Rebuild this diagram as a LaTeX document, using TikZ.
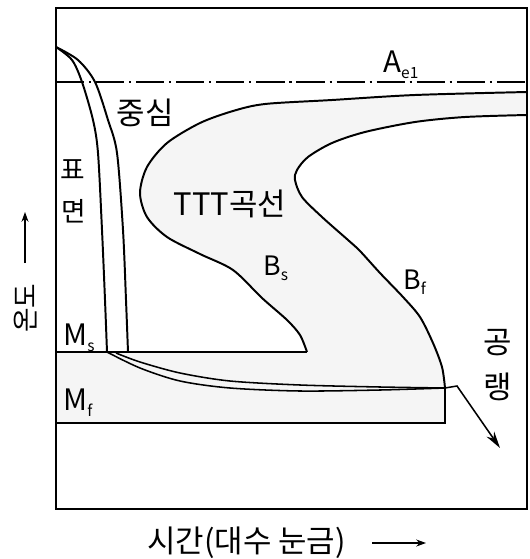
\documentclass[tikz,border=0pt]{standalone}
\usepackage{fontspec}
\setmainfont{Noto Sans CJK KR}
\usepackage{tikz}
\usetikzlibrary{arrows.meta}

\newcommand{\lowidx}[1]{\raisebox{-0.22em}{\fontsize{11}{11}\selectfont #1}}

\begin{document}
\begin{tikzpicture}[
        x=0.025cm, y=-0.025cm,
        frame/.style={draw=black, line width=1.3pt},
        ttt/.style={draw=black, line width=1.4pt},
        level/.style={draw=black, line width=1.6pt},
        cool/.style={draw=black, line width=1.1pt},
        aeline/.style={draw=black, line width=1pt,
            dash pattern=on 20pt off 3.5pt on 1.5pt off 3.5pt},
        region/.style={fill=black!4},
        lbl/.style={font=\fontsize{22}{23}\selectfont, inner sep=0pt},
        sym/.style={font=\fontsize{19}{20}\selectfont, inner sep=0pt, anchor=base west},
        axisarr/.style={-{Stealth[length=7pt, width=5pt]}, line width=0.8pt},
        coolarr/.style={-{Stealth[length=12pt, width=6.5pt]}, line width=1.1pt}
    ]
    \useasboundingbox (0,0) rectangle (529,559);

    % === Key points ===
    \coordinate (tl) at (56,8);
    \coordinate (br) at (527,509);
    \coordinate (aeL) at (56,82);
    \coordinate (aeR) at (527,82);
    \coordinate (msL) at (56,352);
    \coordinate (msR) at (307,352);
    \coordinate (mfL) at (56,423);
    \coordinate (mfR) at (445,423);
    \coordinate (bfEnd) at (445,388);
    \coordinate (bend) at (457,386);
    \coordinate (tip) at (500,448);

    % === Transformation region (shaded) ===
    \fill[region] plot[smooth] coordinates {(527,92) (415,95) (332,100) (265,104)
        (233,111) (200,123) (167,143) (147,167) (140,193) (147,217) (167,237)
        (200,254) (233,270) (262,298) (287,320) (300,335) (307,352)}
        -- (msL) -- (mfL) -- (mfR) -- (bfEnd)
        -- plot[smooth] coordinates {(445,388) (442,367) (433,343) (420,317)
        (403,297) (380,273) (360,251) (348,240) (322,217) (302,197) (295,180)
        (297,170) (308,157) (332,143) (365,132) (415,122) (465,117) (527,115)}
        -- cycle;

    % === Frame and A_e1 ===
    \draw[frame] (tl) rectangle (br);
    \draw[aeline] (aeL) -- (aeR);

    % === TTT curves ===
    \draw[ttt] plot[smooth] coordinates {(527,92) (415,95) (332,100) (265,104)
        (233,111) (200,123) (167,143) (147,167) (140,193) (147,217) (167,237)
        (200,254) (233,270) (262,298) (287,320) (300,335) (307,352)};
    \draw[ttt] plot[smooth] coordinates {(527,115) (465,117) (415,122) (365,132)
        (332,143) (308,157) (297,170) (295,180) (302,197) (322,217) (348,240)
        (360,251) (380,273) (403,297) (420,317) (433,343) (442,367) (445,388)};

    % === M_s and M_f lines ===
    \draw[level] (msL) -- (msR);
    \draw[level] (mfL) -- (mfR) -- (bfEnd);

    % === Cooling curves: surface and center ===
    \draw[ttt] plot[smooth] coordinates {(56,47) (72,60) (82,82) (93,120)
        (98,153) (102,230) (105,300) (107,352)};
    \draw[ttt] plot[smooth] coordinates {(56,47) (78,60) (95,82) (108,120)
        (117,153) (123,230) (126,300) (128,352)};
    \draw[cool] plot[smooth] coordinates {(107,352) (140,368) (180,381)
        (230,388) (300,391) (380,390) (445,388)};
    \draw[cool] plot[smooth] coordinates {(116,353) (140,362) (180,373)
        (230,381) (300,385) (380,387) (445,388)};
    \draw[coolarr] (bfEnd) -- (bend) -- (tip);

    % === Labels ===
    \node[sym, font=\fontsize{21}{22}\selectfont] (ae) at (383,72) {A\lowidx{e1}};
    \node[sym, font=\fontsize{21}{22}\selectfont] (ms) at (63,345) {M\lowidx{s}};
    \node[sym, font=\fontsize{21}{22}\selectfont] (mf) at (63,410) {M\lowidx{f}};
    \node[sym] (bs) at (263,275) {B\lowidx{s}};
    \node[sym] (bf) at (403,289) {B\lowidx{f}};
    \node[lbl] (center) at (145,113) {중심};
    \node[lbl, font=\fontsize{19}{20}\selectfont] (surf1) at (73,170) {표};
    \node[lbl, font=\fontsize{19}{20}\selectfont] (surf2) at (74,211) {면};
    \node[lbl] (tttname) at (230,204) {TTT곡선};
    \node[lbl] (cool1) at (498,343) {공};
    \node[lbl] (cool2) at (498,387) {랭};

    % === Axis labels ===
    \node[lbl, rotate=90, font=\fontsize{19}{20}\selectfont] (temp) at (26,308) {온도};
    \coordinate (y0) at (25,263);
    \coordinate (y1) at (25,212);
    \draw[axisarr] (y0) -- (y1);
    \node[lbl, anchor=west] (time) at (147,543) {시간(대수 눈금)};
    \coordinate (t0) at (372,543);
    \coordinate (t1) at (426,543);
    \draw[axisarr] (t0) -- (t1);

\end{tikzpicture}
\end{document}
